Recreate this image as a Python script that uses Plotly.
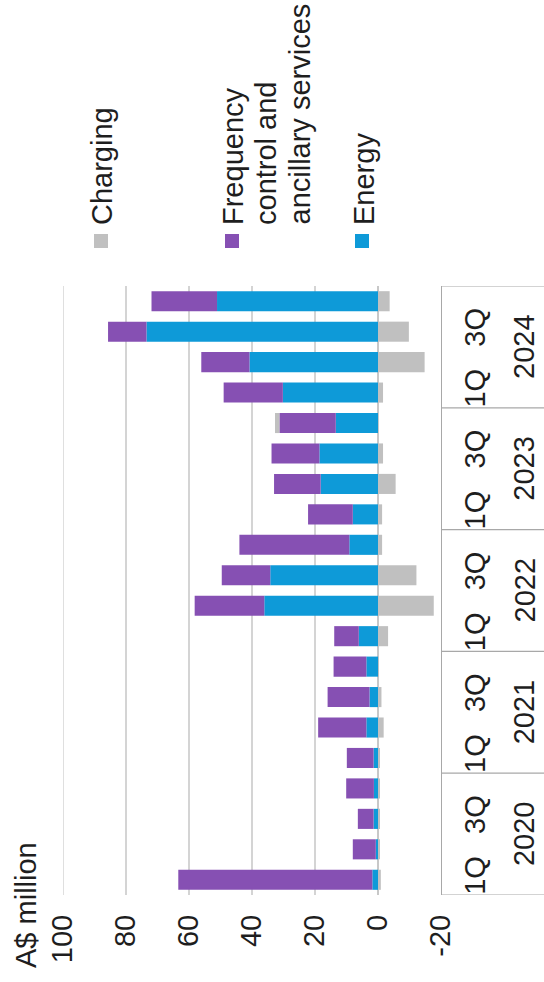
import plotly.graph_objects as go

# ---- data ----
years = ["2020", "2021", "2022", "2023", "2024"]
quarters = ["1Q", "2Q", "3Q", "4Q"]
periods = [f"{q} {y}" for y in years for q in quarters]

energy = [1.8, 0.7, 1.4, 1.3, 1.4, 3.7, 2.7, 3.7, 6.1, 36.1,
          34.2, 9.1, 8.0, 18.2, 18.6, 13.4, 30.2, 40.8, 73.5, 51.1]
fcas = [61.6, 7.3, 5.0, 8.8, 8.5, 15.3, 13.3, 10.4, 7.8, 22.1,
        15.4, 34.9, 14.2, 14.8, 15.2, 17.9, 18.8, 15.3, 12.2, 20.8]
charging = [-0.9, -0.5, -0.5, -0.5, -0.5, -1.8, -1.1, -0.3, -3.2, -17.7,
            -12.2, -1.3, -1.3, -5.6, -1.6, 1.4, -1.6, -14.8, -9.8, -3.7]

series_names = ["Energy", "Frequency control and ancillary services", "Charging"]
colors = ["#0E9AD8", "#8650B3", "#C0C0C0"]

value_ticks = [-20, 0, 20, 40, 60, 80, 100]
value_tick_text = ["-20", "0", "20", "40", "60", "80", "100"]
y_title = "A$ million"

# ---- geometry ----
W, H = 544, 982
L, R, T, B = 63, 103, 286, 87
PW, PH = W - L - R, H - T - B

def px(xp):
    return (xp - L) / PW

def py(yp):
    return (H - B - yp) / PH

FONT = "Liberation Sans, Arial, sans-serif"
FS = 29
TXT = "#1E1E1E"
GRID = "#D4D4D4"

pos = list(range(len(periods)))

fig = go.Figure()
for name, vals, col in zip(series_names, [energy, fcas, charging], colors):
    fig.add_trace(go.Bar(
        y=pos, x=vals, orientation="h", name=name,
        marker=dict(color=col, line=dict(width=0)),
        width=0.66, showlegend=False,
    ))

# tick labels for quarter axis: 1Q and 3Q
qt_vals = [i for i, p in enumerate(periods) if p.startswith("1Q") or p.startswith("3Q")]
qt_text = [periods[i].split()[0] for i in qt_vals]

fig.update_layout(
    width=W, height=H,
    margin=dict(l=L, r=R, t=T, b=B, pad=0),
    paper_bgcolor="white", plot_bgcolor="white",
    barmode="relative", bargap=0.3,
    font=dict(family=FONT, size=FS, color=TXT),
    xaxis=dict(
        range=[100, -20], tickvals=value_ticks, ticktext=value_tick_text,
        tickangle=-90,
        showgrid=True, gridcolor=GRID, gridwidth=1.5,
        zeroline=True, zerolinecolor="#C8C8C8", zerolinewidth=1.5,
        showline=False, ticks="", ticklabelstandoff=13,
        tickfont=dict(family=FONT, size=FS, color=TXT),
    ),
    yaxis=dict(
        range=[-0.5, len(periods) - 0.5], side="right",
        tickvals=qt_vals, ticktext=qt_text, tickangle=-90,
        showgrid=False, zeroline=False,
        showline=True, linecolor="#A8A8A8", linewidth=1.2,
        ticks="", ticklabelstandoff=8,
        tickfont=dict(family=FONT, size=FS, color=TXT),
    ),
)

shapes = []
# gridline at the 100 edge of the value axis
shapes.append(dict(type="line", xref="x", yref="paper",
                   x0=value_ticks[-1], x1=value_ticks[-1], y0=0, y1=1,
                   line=dict(color=GRID, width=1.5), layer="below"))
# year separators in category axis box
for k in range(len(years) + 1):
    yb = k * 4 - 0.5
    shapes.append(dict(type="line", xref="paper", yref="y",
                       x0=1, x1=px(W + 2), y0=yb, y1=yb,
                       line=dict(color="#A8A8A8", width=1.2)))

annotations = []
for k, yr in enumerate(years):
    annotations.append(dict(text=yr, xref="paper", yref="y",
                            x=px(524), y=k * 4 + 1.5, textangle=-90,
                            xanchor="center", yanchor="middle", showarrow=False,
                            font=dict(family=FONT, size=FS, color=TXT)))

# axis title
annotations.append(dict(text=y_title, xref="paper", yref="paper",
                        x=px(26), y=py(970), textangle=-90,
                        xanchor="center", yanchor="bottom", showarrow=False,
                        font=dict(family=FONT, size=FS, color=TXT)))

# legend (rotated, drawn manually)
legend_items = [
    (colors[2], ["Charging"], 101, [102]),
    (colors[1], ["Frequency", "control and", "ancillary services"], 232, [233, 266, 299]),
    (colors[0], ["Energy"], 362, [364]),
]
sq = 14
for col, lines, sx, lxs in legend_items:
    shapes.append(dict(type="rect", xref="paper", yref="paper",
                       x0=px(sx - sq / 2), x1=px(sx + sq / 2),
                       y0=py(241 + sq / 2), y1=py(241 - sq / 2),
                       fillcolor=col, line=dict(width=0)))
    for ln, lx in zip(lines, lxs):
        annotations.append(dict(text=ln, xref="paper", yref="paper",
                                x=px(lx), y=py(227), textangle=-90,
                                xanchor="center", yanchor="bottom", showarrow=False,
                                font=dict(family=FONT, size=FS, color=TXT)))

fig.update_layout(shapes=shapes, annotations=annotations)
fig.write_html("out.html")
